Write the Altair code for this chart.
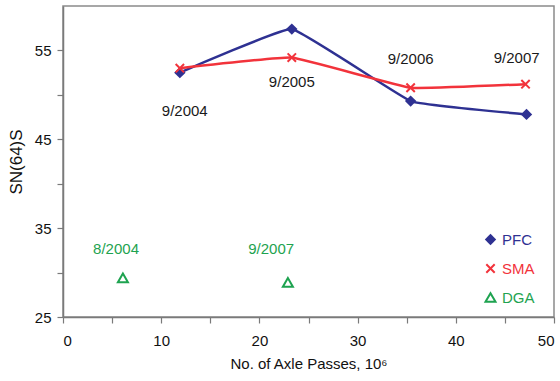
import altair as alt
import pandas as pd

# Skid number SN(64)S against cumulative axle passes (millions)
series = ["PFC", "SMA", "DGA"]
colors = ["#2E3192", "#F2333B", "#1EA350"]

pfc_x = [11.9, 23.3, 35.4, 47.2]
pfc_y = [52.5, 57.4, 49.3, 47.8]
sma_x = [11.9, 23.3, 35.4, 47.1]
sma_y = [53.0, 54.2, 50.8, 51.2]
dga_x = [6.1, 22.9]
dga_y = [29.4, 28.9]

# test-date annotations
date_text = ["9/2004", "9/2005", "9/2006", "9/2007"]
date_x = [12.4, 23.3, 35.4, 46.2]
date_y = [48.2, 51.5, 54.0, 54.2]
dga_text = ["8/2004", "9/2007"]
dga_tx = [5.4, 21.2]
dga_ty = [32.7, 32.7]

FONT = "Liberation Sans Narrow, Arial Narrow, Liberation Sans, Arial, sans-serif"

pts = pd.DataFrame(
    {
        "passes": pfc_x + sma_x + dga_x,
        "sn": pfc_y + sma_y + dga_y,
        "series": ["PFC"] * len(pfc_x) + ["SMA"] * len(sma_x) + ["DGA"] * len(dga_x),
    }
)
lines = pts[pts["series"] != "DGA"]
dates = pd.DataFrame({"passes": date_x, "sn": date_y, "label": date_text})
dga_dates = pd.DataFrame({"passes": dga_tx, "sn": dga_ty, "label": dga_text})

x_scale = alt.Scale(domain=[0, 50], nice=False)
y_scale = alt.Scale(domain=[25, 60], nice=False, zero=False)

x_enc = alt.X(
    "passes:Q",
    scale=x_scale,
    axis=alt.Axis(
        title="No. of Axle Passes, 10⁶",
        values=[0, 5, 10, 15, 20, 25, 30, 35, 40, 45, 50],
        labelExpr="datum.value % 10 === 0 ? datum.label : ''",
        grid=False,
    ),
)
y_enc = alt.Y(
    "sn:Q",
    scale=y_scale,
    axis=alt.Axis(
        title="SN(64)S",
        values=[25, 30, 35, 40, 45, 50, 55],
        labelExpr="(datum.value - 25) % 10 === 0 ? datum.label : ''",
        grid=False,
    ),
)

line_layer = (
    alt.Chart(lines)
    .mark_line(interpolate="cardinal", tension=0.75, strokeWidth=2.5)
    .encode(
        x=x_enc,
        y=y_enc,
        stroke=alt.Stroke(
            "series:N", scale=alt.Scale(domain=series, range=colors), legend=None
        ),
    )
)

x_mark = "M-0.8,-0.8L0.8,0.8M-0.8,0.8L0.8,-0.8"
shapes = ["diamond", x_mark, "triangle-up"]
sizes = [130, 110, 100]
filled = [True, False, False]
legend_y = [226, 255, 284]


def series_points(i):
    """Marker layer for one series, with its own one-entry legend."""
    name = series[i]
    legend = alt.Legend(
        title=None,
        orient="none",
        legendX=420,
        legendY=legend_y[i],
        labelFont=FONT,
        labelFontSize=15,
        labelColor=colors[i],
        symbolSize=sizes[i],
        symbolStrokeWidth=2,
        labelOffset=4,
    )
    return (
        alt.Chart(pts[pts["series"] == name])
        .mark_point(filled=filled[i], strokeWidth=2, opacity=1, size=sizes[i])
        .encode(
            x="passes:Q",
            y="sn:Q",
            color=alt.Color(
                "series:N",
                scale=alt.Scale(domain=[name], range=[colors[i]]),
                legend=legend,
            ),
            shape=alt.Shape(
                "series:N",
                scale=alt.Scale(domain=[name], range=[shapes[i]]),
                legend=legend,
            ),
        )
    )


date_layer = (
    alt.Chart(dates)
    .mark_text(font=FONT, fontSize=15, color="#1a1a1a", baseline="middle")
    .encode(x="passes:Q", y="sn:Q", text="label:N")
)
dga_layer = (
    alt.Chart(dga_dates)
    .mark_text(font=FONT, fontSize=15, color=colors[2], baseline="middle")
    .encode(x="passes:Q", y="sn:Q", text="label:N")
)

chart = (
    alt.layer(
        line_layer,
        series_points(0),
        series_points(1),
        series_points(2),
        date_layer,
        dga_layer,
    )
    .resolve_scale(color="independent", shape="independent")
    .resolve_legend(color="independent", shape="independent")
    .properties(
        width=491,
        height=311,
        autosize=alt.AutoSizeParams(type="none"),
        padding={"left": 63, "top": 6, "right": 6, "bottom": 64},
        background="white",
    )
    .configure_view(stroke="#8a8a8a", strokeWidth=1.5)
    .configure_axis(
        domainColor="#7a7a7a",
        domainWidth=1.5,
        tickColor="#7a7a7a",
        tickWidth=1.2,
        tickSize=6,
        labelFont=FONT,
        labelFontSize=15,
        labelColor="#111111",
        labelPadding=6,
        titleFont=FONT,
        titleFontSize=15,
        titleFontWeight="normal",
        titleColor="#111111",
    )
    .configure_axisX(titlePadding=8, labelPadding=10)
    .configure_axisY(titleFontSize=17, titlePadding=9)
)

chart.save("out.html", embed_options={"renderer": "svg", "actions": False})
